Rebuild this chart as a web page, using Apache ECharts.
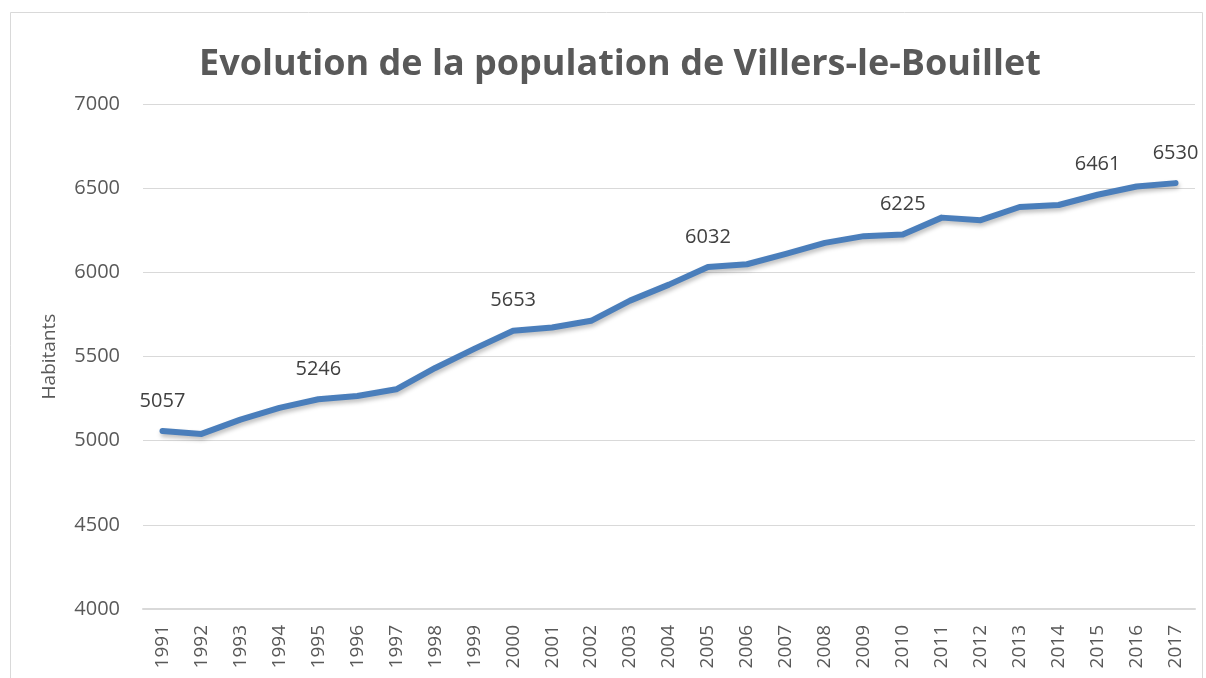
<!DOCTYPE html>
<html>
<head>
<meta charset="utf-8">
<title>Evolution de la population de Villers-le-Bouillet</title>
<script src="https://cdn.jsdelivr.net/npm/echarts@6/dist/echarts.min.js"></script>
<style>
  html, body { margin: 0; padding: 0; background: #ffffff; }
  #chart { width: 1206px; height: 678px; }
</style>
</head>
<body>
<div id="chart"></div>
<script>
// Années du recensement
const years = ['1991','1992','1993','1994','1995','1996','1997','1998','1999','2000',
  '2001','2002','2003','2004','2005','2006','2007','2008','2009','2010',
  '2011','2012','2013','2014','2015','2016','2017'];

// Nombre d'habitants au 1er janvier
const population = [5057, 5040, 5125, 5195, 5246, 5265, 5305, 5432, 5545, 5653,
  5672, 5712, 5832, 5927, 6032, 6048, 6110, 6175, 6215, 6225,
  6325, 6310, 6388, 6400, 6461, 6510, 6530];

// Années dont la valeur est affichée au-dessus de la courbe
const labelledYears = ['1991', '1995', '2000', '2005', '2010', '2015', '2017'];

const yTicks = { min: 4000, max: 7000, step: 500 };

const chart = echarts.init(document.getElementById('chart'), null, { renderer: 'canvas' });

const seriesData = population.map((v, i) => ({
  value: v,
  label: { show: labelledYears.includes(years[i]) }
}));

chart.setOption({
  backgroundColor: '#ffffff',
  animation: false,
  title: {
    text: 'Evolution de la population de Villers-le-Bouillet',
    left: 194,
    top: 42,
    textStyle: {
      fontFamily: 'Open Sans',
      fontWeight: 'bold',
      fontSize: 36,
      color: '#595959'
    }
  },
  graphic: [{
    type: 'rect',
    shape: { x: 10.5, y: 12.5, width: 1192, height: 700 },
    style: { fill: 'none', stroke: '#d9d9d9', lineWidth: 1 },
    silent: true
  }],
  grid: { left: 143, right: 11, top: 104, bottom: 69 },
  xAxis: {
    type: 'category',
    data: years,
    boundaryGap: true,
    axisLine: { lineStyle: { color: '#d9d9d9', width: 2 } },
    axisTick: { show: false },
    axisLabel: {
      rotate: 90,
      margin: 16,
      fontFamily: 'Open Sans',
      fontSize: 19,
      color: '#595959'
    },
    splitLine: { show: false }
  },
  yAxis: {
    type: 'value',
    min: yTicks.min,
    max: yTicks.max,
    interval: yTicks.step,
    name: 'Habitants',
    nameLocation: 'middle',
    nameRotate: 90,
    nameGap: 84,
    nameTextStyle: { fontFamily: 'Open Sans', fontSize: 19, color: '#595959' },
    axisLine: { show: false },
    axisTick: { show: false },
    axisLabel: {
      margin: 23,
      fontFamily: 'Open Sans',
      fontSize: 20,
      color: '#595959',
      formatter: (v) => String(v)
    },
    splitLine: { lineStyle: { color: '#d9d9d9', width: 1 } }
  },
  series: [{
    type: 'line',
    data: seriesData,
    symbol: 'circle',
    symbolSize: 0,
    showSymbol: true,
    smooth: false,
    itemStyle: { color: '#4a7ebb' },
    lineStyle: {
      color: '#4a7ebb',
      width: 6,
      cap: 'round',
      join: 'round',
      shadowColor: 'rgba(0,0,0,0.25)',
      shadowBlur: 4,
      shadowOffsetY: 3,
      shadowOffsetX: 1
    },
    label: {
      show: false,
      position: 'top',
      distance: 20,
      fontFamily: 'Open Sans',
      fontSize: 20,
      color: '#404040'
    }
  }]
});
</script>
</body>
</html>
